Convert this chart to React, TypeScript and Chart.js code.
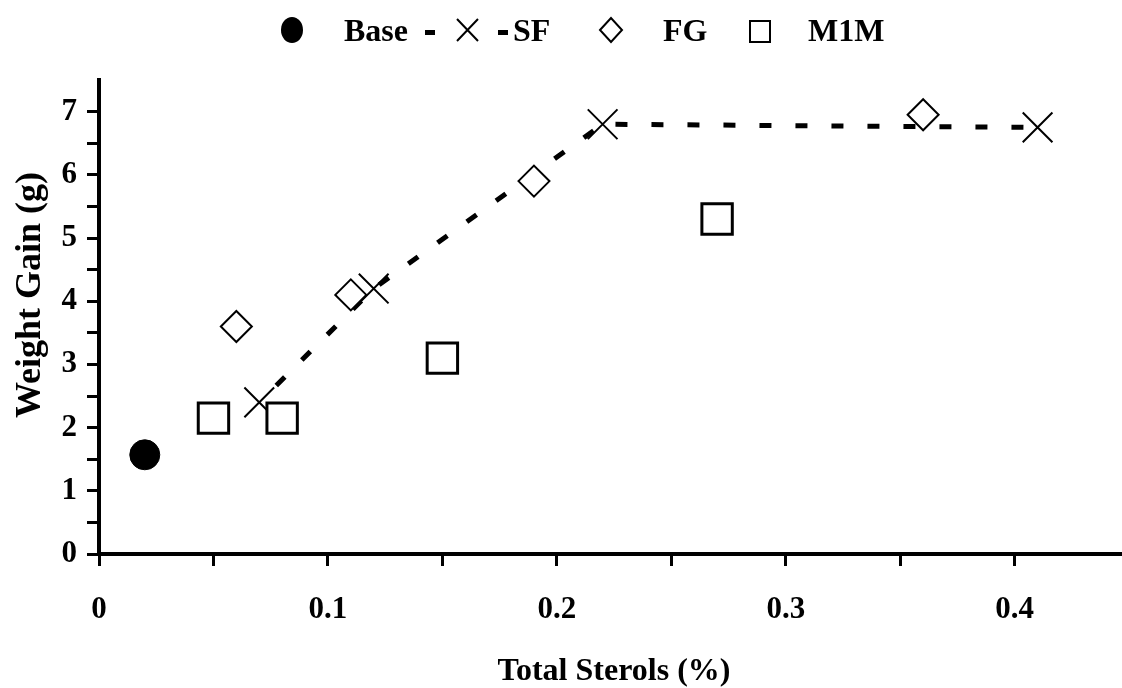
import React, { useEffect, useRef } from "react";
import { Chart, registerables } from "chart.js";

Chart.register(...registerables);

// ---- Data ----
const baseX = [0.02];
const baseY = [1.57];
const sfX = [0.07, 0.12, 0.22, 0.41];
const sfY = [2.4, 4.2, 6.8, 6.75];
const fgX = [0.06, 0.11, 0.19, 0.36];
const fgY = [3.6, 4.1, 5.9, 6.95];
const m1mX = [0.05, 0.08, 0.15, 0.27];
const m1mY = [2.15, 2.15, 3.1, 5.3];

const xTickLabels = ["0", "0.1", "0.2", "0.3", "0.4"];
const yTickLabels = ["0", "1", "2", "3", "4", "5", "6", "7"];
const legendLabels = ["Base", "SF", "FG", "M1M"];
const xTitle = "Total Sterols (%)";
const yTitle = "Weight Gain (g)";

const FONT = "'Liberation Serif', 'Times New Roman', serif";

const toPts = (xs: number[], ys: number[]) => xs.map((x, i) => ({ x, y: ys[i] }));

const overlayPlugin = {
  id: "overlay",
  afterDraw(chart: any) {
    const ctx: CanvasRenderingContext2D = chart.ctx;
    ctx.save();
    ctx.fillStyle = "#000";
    ctx.strokeStyle = "#000";

    // Legend
    const ly = 30;
    ctx.font = `bold 32px ${FONT}`;
    ctx.textBaseline = "alphabetic";
    ctx.textAlign = "left";
    // Base marker
    ctx.beginPath();
    ctx.ellipse(292, ly, 11, 13, 0, 0, Math.PI * 2);
    ctx.fill();
    ctx.fillText(legendLabels[0], 344, 41);
    // SF: dash X dash
    ctx.fillRect(425, ly, 10, 5);
    ctx.fillRect(498, ly, 10, 5);
    ctx.lineWidth = 2;
    ctx.beginPath();
    ctx.moveTo(457, ly - 11);
    ctx.lineTo(478, ly + 11);
    ctx.moveTo(457, ly + 11);
    ctx.lineTo(478, ly - 11);
    ctx.stroke();
    ctx.fillText(legendLabels[1], 513, 41);
    // FG diamond
    ctx.beginPath();
    ctx.moveTo(600, ly);
    ctx.lineTo(611, ly - 12);
    ctx.lineTo(622, ly);
    ctx.lineTo(611, ly + 12);
    ctx.closePath();
    ctx.stroke();
    ctx.fillText(legendLabels[2], 663, 41);
    // M1M square
    ctx.lineWidth = 2;
    ctx.strokeRect(750, 21, 20, 21);
    ctx.fillText(legendLabels[3], 808, 41);

    // Axis titles
    ctx.textAlign = "center";
    ctx.textBaseline = "middle";
    ctx.font = `bold 32px ${FONT}`;
    ctx.fillText(xTitle, 614, 672);

    ctx.save();
    ctx.translate(31, 295);
    ctx.rotate(-Math.PI / 2);
    ctx.font = `bold 36px ${FONT}`;
    ctx.fillText(yTitle, 0, 0);
    ctx.restore();

    ctx.restore();
  },
};

export default function App() {
  const canvasRef = useRef<HTMLCanvasElement | null>(null);

  useEffect(() => {
    if (!canvasRef.current) return;
    const tickFont = { family: FONT, size: 31, weight: "bold" as const };
    const chart = new Chart(canvasRef.current, {
      type: "scatter",
      data: {
        datasets: [
          {
            label: legendLabels[0],
            data: toPts(baseX, baseY),
            pointStyle: "circle",
            pointRadius: 15,
            pointBackgroundColor: "#000",
            pointBorderColor: "#000",
            pointBorderWidth: 1,
            order: 1,
          },
          {
            label: legendLabels[2],
            data: toPts(fgX, fgY),
            pointStyle: "rectRot",
            pointRadius: 15.5,
            pointBackgroundColor: "#fff",
            pointBorderColor: "#000",
            pointBorderWidth: 2,
            order: 1,
          },
          {
            label: legendLabels[3],
            data: toPts(m1mX, m1mY),
            pointStyle: "rect",
            pointRadius: 21.5,
            pointBackgroundColor: "#fff",
            pointBorderColor: "#000",
            pointBorderWidth: 3,
            order: 1,
          },
          {
            label: legendLabels[1],
            data: toPts(sfX, sfY),
            showLine: true,
            borderColor: "#000",
            borderWidth: 5,
            borderDash: [12, 24],
            borderDashOffset: 12,
            pointStyle: "crossRot",
            pointRadius: 21,
            pointBorderColor: "#000",
            pointBackgroundColor: "#000",
            pointBorderWidth: 2,
            order: 2,
          } as any,
        ],
      },
      options: {
        responsive: false,
        animation: false,
        events: [],
        layout: { autoPadding: false, padding: { top: 80, right: 2, left: 0, bottom: 0 } },
        plugins: {
          legend: { display: false },
          tooltip: { enabled: false },
          title: { display: false },
        },
        scales: {
          x: {
            type: "linear",
            min: 0,
            max: 0.446,
            bounds: "data",
            grid: {
              display: true,
              drawOnChartArea: false,
              drawTicks: true,
              tickLength: 12,
              lineWidth: 3,
              color: "#000",
            },
            border: { display: true, width: 4, color: "#000" },
            ticks: {
              stepSize: 0.05,
              includeBounds: false,
              autoSkip: false,
              maxRotation: 0,
              padding: 25,
              color: "#000",
              font: tickFont,
              callback: (v: any) => {
                const n = Number(v) * 10;
                const r = Math.round(n);
                return Math.abs(n - r) < 1e-6 ? xTickLabels[r] ?? "" : "";
              },
            },
            afterFit: (s: any) => {
              s.height = 134;
              s.paddingLeft = 0;
              s.paddingRight = 0;
            },
          },
          y: {
            type: "linear",
            min: 0,
            max: 7.5,
            grid: {
              display: true,
              drawOnChartArea: false,
              drawTicks: true,
              tickLength: 12,
              lineWidth: 3,
              color: "#000",
            },
            border: { display: true, width: 4, color: "#000" },
            ticks: {
              stepSize: 0.5,
              autoSkip: false,
              padding: 10,
              color: "#000",
              font: tickFont,
              callback: (v: any) => {
                const n = Number(v);
                const r = Math.round(n);
                return Math.abs(n - r) < 1e-6 ? yTickLabels[r] ?? "" : "";
              },
            },
            afterBuildTicks: (s: any) => {
              s.ticks = s.ticks.filter((t: any) => t.value < 7.4);
            },
            afterFit: (s: any) => {
              s.width = 99;
              s.paddingTop = 0;
              s.paddingBottom = 0;
            },
          },
        },
      },
      plugins: [overlayPlugin],
    });
    return () => chart.destroy();
  }, []);

  return (
    <div style={{ position: "fixed", left: 0, top: 0, width: 1122, height: 688, background: "#fff" }}>
      <canvas ref={canvasRef} width={1122} height={688} style={{ display: "block" }} />
    </div>
  );
}
